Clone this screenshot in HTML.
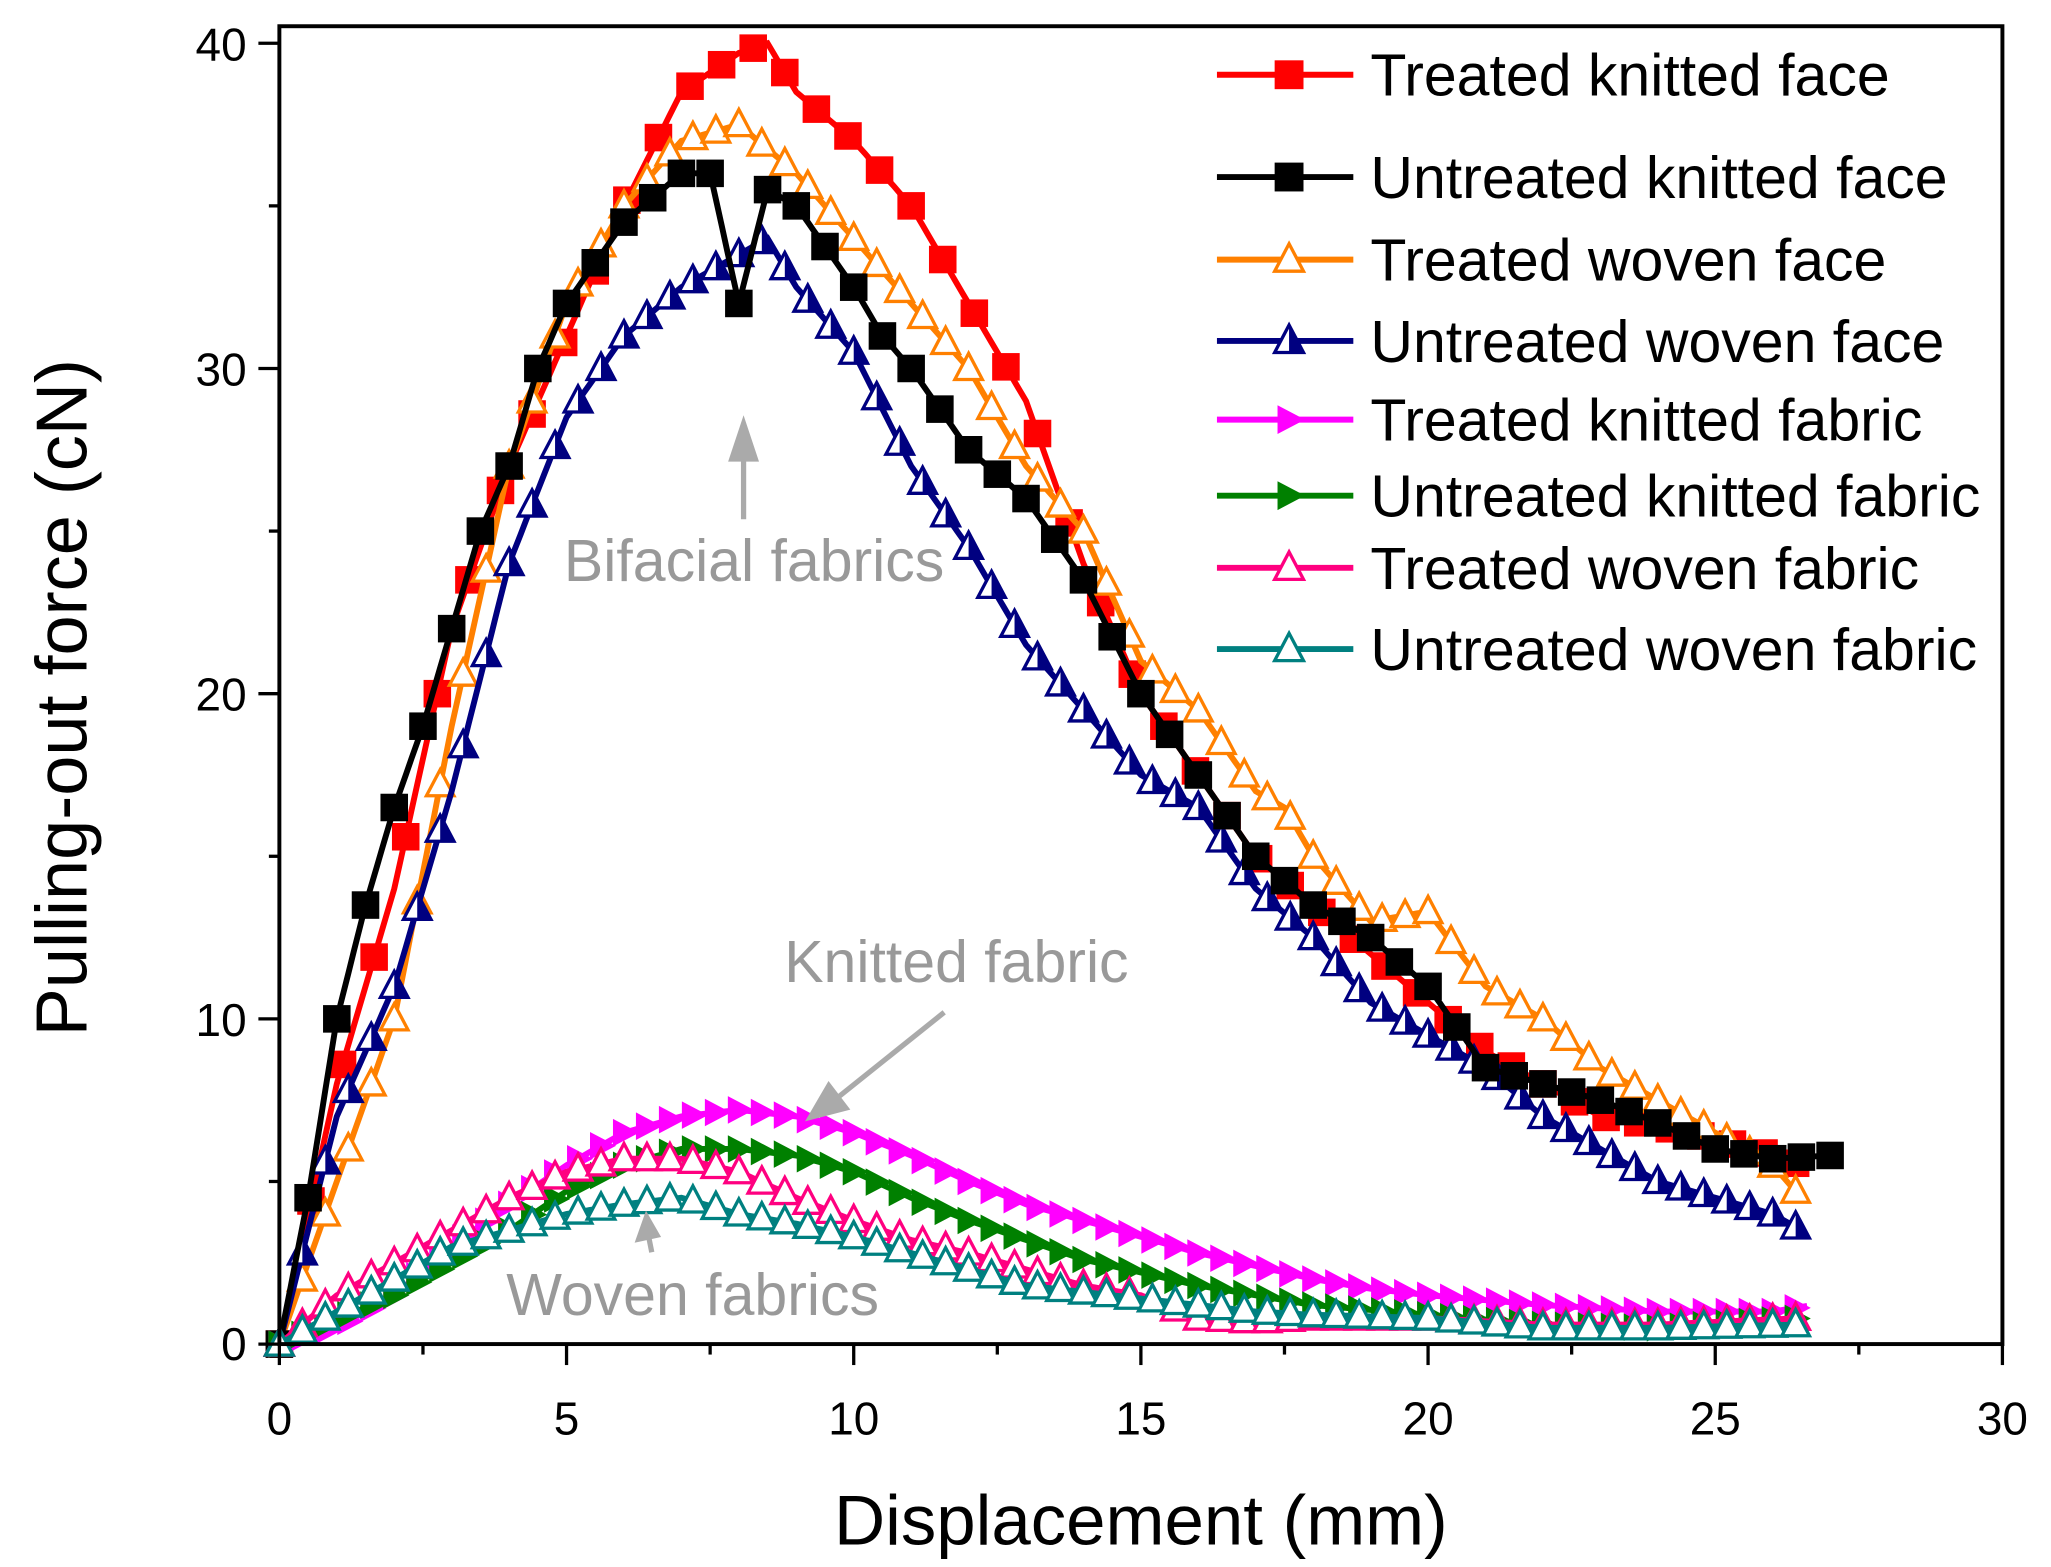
<!DOCTYPE html>
<html><head><meta charset="utf-8"><style>html,body{margin:0;padding:0;background:#fff}svg{display:block}</style></head>
<body>
<svg id="s" width="2051" height="1567" viewBox="0 0 1564 1195" xmlns="http://www.w3.org/2000/svg" font-family="Liberation Sans, Arial, sans-serif">
<rect x="0" y="0" width="1564" height="1195" fill="#fff"/>
<g id="plot"></g>
<rect x="213" y="20" width="1314" height="1005" fill="none" stroke="#000" stroke-width="3"/>
<g id="ticks" stroke="#000" stroke-width="2.5"></g>
<g font-size="35" text-anchor="end">
<text x="188" y="1037">0</text><text x="188" y="790">10</text><text x="188" y="542">20</text><text x="188" y="294">30</text><text x="188" y="46">40</text>
</g>
<g font-size="35" text-anchor="middle">
<text x="213" y="1094">0</text><text x="432" y="1094">5</text><text x="651" y="1094">10</text><text x="870" y="1094">15</text><text x="1089" y="1094">20</text><text x="1308" y="1094">25</text><text x="1527" y="1094">30</text>
</g>
<text x="870" y="1178" font-size="54" text-anchor="middle">Displacement (mm)</text>
<text transform="translate(66,532) rotate(-90)" font-size="55" text-anchor="middle">Pulling-out force (cN)</text>
<g fill="#999" font-size="45">
<text x="430" y="443">Bifacial fabrics</text>
<text x="598" y="749">Knitted fabric</text>
<text x="386" y="1003">Woven fabrics</text>
</g>
<g stroke="#aaa" stroke-width="4" fill="#aaa">
<line x1="567" y1="396" x2="567" y2="345"/><polygon points="558,350 576,350 567,323"/>
<line x1="720" y1="772" x2="640" y2="836"/><polygon points="632,828 645,845 618,852"/>
<line x1="497" y1="955" x2="494" y2="940"/><polygon points="487,945 501,942 493,928"/>
</g>
<g id="legend" font-size="45"></g>
</svg>
<script>
const X=v=>213+v*43.8, Y=v=>1025-v*24.8;
const series=[
["#ff0000","sq",[[0,0],[1,8],[2,14],[3,22],[4,27],[5,31],[6,35],[7,38.5],[8,39.7],[8.5,40],[9,38.5],[10,37],[11,35],[12,32],[13,29],[14,24],[15,20],[16,17.5],[17,15],[18,13.5],[19,12],[20,10.5],[21,9],[22,8],[23,7],[24,6.7],[25,6.3],[26,5.8],[26.5,5.5]],0.55],
["#ff8000","tri",[[0,0],[1,5],[2,10],[3,19],[4,27],[5,32],[6,35],[7,37],[8,37.5],[9,36],[10,34],[11,32],[12,30],[13,27],[14,25],[15,21],[16,19.5],[17,17],[17.5,16.5],[18,15],[19,13],[20,13.3],[21,11],[22,10],[23,8.5],[24,7.5],[25,6.5],[26,5.5],[26.5,4.5]],0.4],
["#000080","trif",[[0,0],[1,7],[2,11],[3,17],[4,24],[5,28.5],[6,31],[7,32.5],[8,33.5],[8.5,34],[9,32.5],[10,30.5],[11,27],[12,24.5],[13,21.5],[14,19.5],[15,17.5],[16,16.5],[17,14],[18,12.5],[19,10.5],[20,9.5],[21,8.5],[22,7],[23,6],[24,5],[25,4.5],[26,4],[26.5,3.5]],0.4],
["#000000","sq",[[0,0],[0.5,4.5],[1,10],[1.5,13.5],[2,16.5],[2.5,19],[3,22],[3.5,25],[4,27],[4.5,30],[5,32],[6,34.5],[7,36],[7.5,36],[8,32],[8.5,35.5],[9,35],[10,32.5],[10.5,31],[11,30],[12,27.5],[13,26],[14,23.5],[15,20],[16,17.5],[17,15],[18,13.5],[19,12.5],[20,11],[21,8.5],[22,8],[23,7.5],[24,6.8],[25,6],[26,5.7],[27,5.8]],0.5],
["#ff00ff","rt",[[0,0],[1,0.5],[2,1.5],[3,3],[4,4.3],[5,5.5],[6,6.5],[7,7],[8,7.2],[9,7],[10,6.5],[11,5.8],[12,5],[13,4.3],[14,3.8],[15,3.3],[16,2.8],[17,2.4],[18,2],[19,1.7],[20,1.5],[22,1.2],[24,1],[26,1],[26.7,1.2]],0.4],
["#008000","rt",[[0,0],[2,1.5],[4,3.5],[5,4.7],[6,5.5],[7,6],[8,6],[9,5.8],[10,5.3],[11,4.5],[12,3.8],[13,3.2],[14,2.6],[15,2.2],[16,1.8],[17,1.5],[18,1.2],[20,0.9],[22,0.6],[24,0.5],[26.5,0.8]],0.4],
["#ff0080","tri",[[0,0],[1,1.5],[2,2.5],[3,3.5],[4,4.5],[5,5.3],[6,5.7],[7,5.7],[8,5.3],[9,4.5],[10,3.8],[11,3.2],[12,2.8],[13,2.3],[14,1.8],[15,1.5],[16,0.8],[17,0.7],[18,0.8],[20,0.8],[22,0.6],[24,0.6],[26.5,0.8]],0.4],
["#008080","tri",[[0,0],[1,1],[2,2],[3,3],[4,3.5],[5,4],[6,4.3],[7,4.5],[8,4],[9,3.7],[10,3.3],[11,2.8],[12,2.3],[13,1.8],[14,1.6],[15,1.4],[16,1.2],[17,1],[18,0.9],[20,0.8],[22,0.5],[24,0.5],[26.5,0.6]],0.4]];
function interp(p,x){for(let i=1;i<p.length;i++){if(x<=p[i][0]){const a=p[i-1],b=p[i];return a[1]+(b[1]-a[1])*(x-a[0])/(b[0]-a[0]);}}return p[p.length-1][1];}
function marker(t,c,x,y,r){
 if(t=="sq")return `<rect x="${x-r}" y="${y-r}" width="${2*r}" height="${2*r}" fill="${c}"/>`;
 if(t=="tri")return `<polygon points="${x},${y-r*1.1} ${x-r},${y+r*0.8} ${x+r},${y+r*0.8}" fill="#fff" stroke="${c}" stroke-width="2.5"/>`;
 if(t=="trif")return `<polygon points="${x},${y-r*1.1} ${x-r},${y+r*0.8} ${x+r},${y+r*0.8}" fill="#fff" stroke="${c}" stroke-width="2.5"/><polygon points="${x},${y-r*1.1} ${x},${y+r*0.8} ${x+r},${y+r*0.8}" fill="${c}"/>`;
 if(t=="rt")return `<polygon points="${x-r*0.8},${y-r} ${x-r*0.8},${y+r} ${x+r*1.1},${y}" fill="${c}"/>`;
}
let h="";
for(const [c,t,p,st] of series){
 let pts=[];const end=p[p.length-1][0];
 for(let x=0;x<=end;x+=0.1)pts.push(X(x).toFixed(1)+","+Y(interp(p,x)).toFixed(1));
 h+=`<polyline points="${pts.join(" ")}" fill="none" stroke="${c}" stroke-width="4.5"/>`;
 for(let x=0;x<=end+0.01;x+=st)h+=marker(t,c,X(x),Y(interp(p,x)),10.5);
}
document.getElementById("plot").innerHTML=h;
let tk="";
for(let v=0;v<=40;v+=5){const y=Y(v);tk+=`<line x1="${v%10?205:197}" y1="${y}" x2="213" y2="${y}"/>`;}
for(let v=0;v<=30;v+=2.5){const x=X(v);tk+=`<line x1="${x}" y1="1025" x2="${x}" y2="${v%5?1033:1041}"/>`;}
document.getElementById("ticks").innerHTML=tk;
const leg=[["#ff0000","sq","Treated knitted face",57],["#000000","sq","Untreated knitted face",135],["#ff8000","tri","Treated woven face",198],["#000080","trif","Untreated woven face",260],["#ff00ff","rt","Treated knitted fabric",320],["#008000","rt","Untreated knitted fabric",378],["#ff0080","tri","Treated woven fabric",433],["#008080","tri","Untreated woven fabric",495]];
let lg="";
for(const [c,t,s,y] of leg){lg+=`<line x1="928" y1="${y}" x2="1032" y2="${y}" stroke="${c}" stroke-width="4.5"/>`+marker(t,c,983,y,11)+`<text x="1045" y="${y+16}">${s}</text>`;}
document.getElementById("legend").innerHTML=lg;
</script>
</body></html>
